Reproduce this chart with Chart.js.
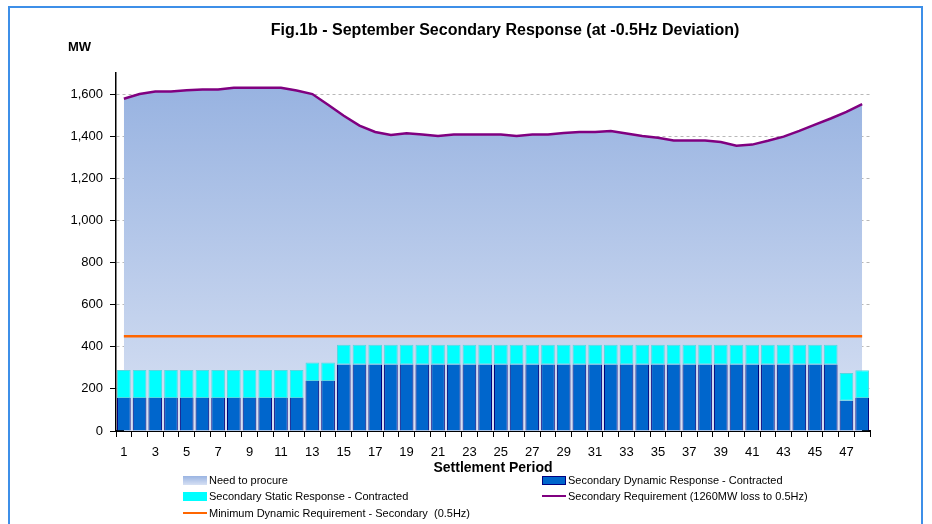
<!DOCTYPE html>
<html>
<head>
<meta charset="utf-8">
<script src="https://cdn.jsdelivr.net/npm/chart.js@4"></script>
<style>
  body { margin: 0; background: #fff; font-family: "Liberation Sans", Arial, sans-serif; }
  #wrap { position: relative; width: 932px; height: 524px; overflow: hidden; }
  #frame { position: absolute; left: 8px; top: 6px; width: 915px; height: 540px; border: 2px solid #3d8fe8; box-sizing: border-box; }
  canvas { position: absolute; left: 0; top: 0; }
  .txt { position: absolute; white-space: nowrap; color: #000; }
  .title { left: 505px; top: 21px; transform: translateX(-50%); font-weight: bold; font-size: 16px; }
  .unit { left: 68px; top: 39px; font-weight: bold; font-size: 13px; }
  .leg { position: absolute; font-size: 11px; display: flex; align-items: center; white-space: nowrap; }
  .sw { width: 24px; height: 9px; margin-right: 2px; box-sizing: border-box; }
  .ln { width: 24px; height: 0; margin-right: 2px; }
</style>
</head>
<body>
<div id="wrap">
  <div id="frame"></div>
  <canvas id="c" width="932" height="524"></canvas>
  <div class="txt title">Fig.1b - September Secondary Response (at -0.5Hz Deviation)</div>
  <div class="txt unit">MW</div>
  <div class="leg" style="left:183px; top:474px;"><div class="sw" style="background:linear-gradient(#9ab4e2,#d6e0f3);"></div>Need to procure</div>
  <div class="leg" style="left:542px; top:474px;"><div class="sw" style="background:#0066cc; border:1px solid #000080;"></div>Secondary Dynamic Response - Contracted</div>
  <div class="leg" style="left:183px; top:490px;"><div class="sw" style="background:#00ffff;"></div>Secondary Static Response - Contracted</div>
  <div class="leg" style="left:542px; top:490px;"><div class="ln" style="border-top:2px solid #800080;"></div>Secondary Requirement (1260MW loss to 0.5Hz)</div>
  <div class="leg" style="left:183px; top:507px;"><div class="ln" style="border-top:2px solid #ff6600;"></div>Minimum Dynamic Requirement - Secondary &nbsp;(0.5Hz)</div>
</div>
<script>
// settlement periods 1..48
const periods = [];
for (let i = 1; i <= 48; i++) periods.push(String(i));

const requirement = [
  1578, 1600, 1612, 1612, 1618, 1622, 1622, 1630, 1630, 1630,
  1630, 1617, 1600, 1549, 1497, 1450, 1420, 1406, 1414, 1408,
  1401, 1408, 1408, 1408, 1408, 1401, 1408, 1408, 1415, 1420,
  1420, 1425, 1413, 1401, 1392, 1380, 1380, 1380, 1372, 1355,
  1360, 1378, 1398, 1425, 1455, 1484, 1515, 1552
];

// need to procure follows the requirement
const needToProcure = requirement.slice();

const dynamicContracted = [
  157, 157, 157, 157, 157, 157, 157, 157, 157, 157, 157, 157,
  238, 238,
  316, 316, 316, 316, 316, 316, 316, 316, 316, 316, 316, 316, 316, 316, 316, 316,
  316, 316, 316, 316, 316, 316, 316, 316, 316, 316, 316, 316, 316, 316, 316, 316,
  144, 157
];

const staticContracted = [
  133, 133, 133, 133, 133, 133, 133, 133, 133, 133, 133, 133,
  87, 87,
  94, 94, 94, 94, 94, 94, 94, 94, 94, 94, 94, 94, 94, 94, 94, 94,
  94, 94, 94, 94, 94, 94, 94, 94, 94, 94, 94, 94, 94, 94, 94, 94,
  132, 132
];

const minDynamic = new Array(48).fill(450);

const yTicks = [0, 200, 400, 600, 800, 1000, 1200, 1400, 1600];

const font = { family: "'Liberation Sans', Arial, sans-serif", size: 13 };

function areaFill(context) {
  const chart = context.chart;
  const area = chart.chartArea;
  if (!area) return "#b8c9ea";
  const y = chart.scales.y;
  const g = chart.ctx.createLinearGradient(0, y.getPixelForValue(1630), 0, y.getPixelForValue(0));
  g.addColorStop(0, "#98b3e1");
  g.addColorStop(1, "#d8e1f3");
  return g;
}

new Chart(document.getElementById("c"), {
  data: {
    labels: periods,
    datasets: [
      {
        type: "line",
        label: "Need to procure",
        data: needToProcure,
        stack: "need",
        fill: "origin",
        backgroundColor: areaFill,
        borderWidth: 0,
        pointRadius: 0,
        order: 4,
      },
      {
        type: "bar",
        label: "Secondary Dynamic Response - Contracted",
        data: dynamicContracted,
        stack: "bars",
        backgroundColor: "#0066cc",
        borderColor: "#00007a",
        borderWidth: { left: 1, right: 1, top: 0, bottom: 0 },
        borderSkipped: false,
        barPercentage: 0.87,
        categoryPercentage: 1,
        order: 3,
      },
      {
        type: "bar",
        label: "Secondary Static Response - Contracted",
        data: staticContracted,
        stack: "bars",
        backgroundColor: "#00ffff",
        borderColor: "#55d8e0",
        borderWidth: 1,
        borderSkipped: false,
        barPercentage: 0.87,
        categoryPercentage: 1,
        order: 3,
      },
      {
        type: "line",
        label: "Minimum Dynamic Requirement - Secondary  (0.5Hz)",
        data: minDynamic,
        stack: "min",
        borderColor: "#ff6600",
        borderWidth: 2.5,
        pointRadius: 0,
        fill: false,
        order: 2,
      },
      {
        type: "line",
        label: "Secondary Requirement (1260MW loss to 0.5Hz)",
        data: requirement,
        stack: "req",
        borderColor: "#800080",
        borderWidth: 2.5,
        pointRadius: 0,
        fill: false,
        order: 1,
      },
    ],
  },
  options: {
    responsive: false,
    animation: false,
    layout: { padding: { left: 60, right: 62, top: 73, bottom: 47 } },
    plugins: {
      legend: { display: false },
      tooltip: { enabled: false },
    },
    scales: {
      x: {
        stacked: true,
        offset: true,
        grid: {
          offset: true,
          drawOnChartArea: false,
          drawTicks: true,
          tickLength: 6,
          color: "#000",
        },
        border: { color: "#000", width: 2 },
        ticks: {
          autoSkip: false,
          maxRotation: 0,
          color: "#000",
          font: font,
          padding: 8,
          callback: (v, i) => (i % 2 === 0 ? periods[i] : ""),
        },
        title: {
          display: true,
          text: "Settlement Period",
          color: "#000",
          font: { family: font.family, size: 14, weight: "bold" },
          padding: { top: -4, bottom: 0 },
        },
        afterFit: (axis) => { axis.height = 46; },
      },
      y: {
        stacked: true,
        min: 0,
        max: 1700,
        afterBuildTicks: (axis) => { axis.ticks = yTicks.map((v) => ({ value: v })); },
        grid: {
          color: (ctx) => (ctx.tick && ctx.tick.value > 0 ? "#b8b8b8" : "rgba(0,0,0,0)"),
          tickColor: "#000",
          tickLength: 6,
        },
        border: { color: "#000", width: 1.5, dash: [3, 3] },
        ticks: {
          color: "#000",
          font: font,
          padding: 7,
          callback: (v) => v.toLocaleString("en-US"),
        },
        afterFit: (axis) => { axis.width = 56; },
      },
    },
  },
});
</script>
</body>
</html>
